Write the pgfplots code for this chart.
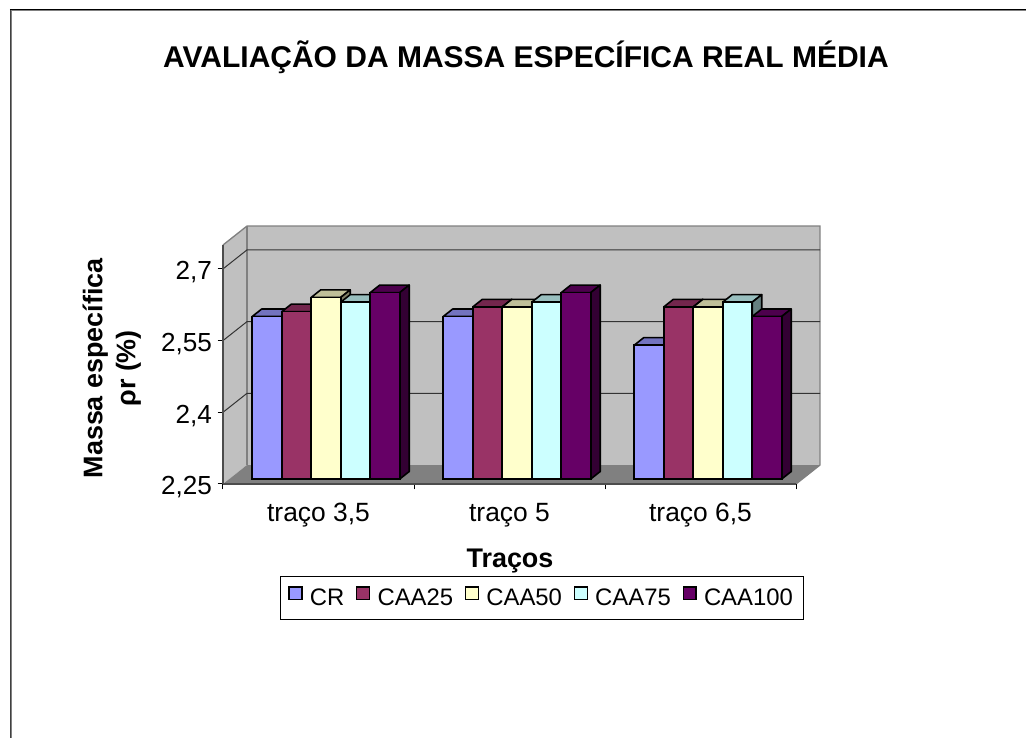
\documentclass[border=0pt]{standalone}
\usepackage{pgfplots}
\pgfplotsset{compat=1.18}
\usepackage{fontspec}
\setmainfont{Liberation Sans}
\newcommand{\sz}[1]{\fontsize{#1}{#1}\selectfont}
\newcommand{\faces}[5]{%
  \pgfmathsetmacro\xa{#1+(#2-0.5)*0.15445}%
  \pgfmathsetmacro\xb{\xa+0.15445}%
  \pgfmathsetmacro\xc{\xa+0.0497}%
  \pgfmathsetmacro\xd{\xb+0.0497}%
  \pgfmathsetmacro\yt{#3+0.0157}%
  \pgfmathsetmacro\yb{2.25+0.0157}%
  \addplot[forget plot,fill=#4,draw=black,line width=1.2pt,line join=round,xshift=5.625pt,yshift=3.75pt]
    coordinates {(\xa,#3) (\xb,#3) (\xd,\yt) (\xc,\yt)} -- cycle;
  \addplot[forget plot,fill=#5,draw=black,line width=1.2pt,line join=round,xshift=5.625pt,yshift=3.75pt]
    coordinates {(\xb,#3) (\xd,\yt) (\xd,\yb) (\xb,2.25)} -- cycle;
}
\newcommand{\series}[8]{% name, k, v0, v1, v2, front, top, side
  \faces{0}{#2}{#3}{#7}{#8}
  \faces{1}{#2}{#4}{#7}{#8}
  \faces{2}{#2}{#5}{#7}{#8}
  \addplot[ybar,bar width=22.125pt,bar shift=#2*22.125pt,fill=#6,draw=black,line width=1.2pt,
    xshift=5.625pt,yshift=3.75pt,
    legend image code/.code={\draw[fill=#6,draw=black,line width=1pt] (0pt,-4.8pt) rectangle (9.6pt,4.8pt);}]
    coordinates {(0,#3) (1,#4) (2,#5)};
  \addlegendentry{#1}
}
\definecolor{cA}{HTML}{9999FF}\definecolor{cAt}{HTML}{7373BF}\definecolor{cAs}{HTML}{4D4D80}
\definecolor{cB}{HTML}{993366}\definecolor{cBt}{HTML}{73264D}\definecolor{cBs}{HTML}{4D1A33}
\definecolor{cC}{HTML}{FFFFCC}\definecolor{cCt}{HTML}{BFBF99}\definecolor{cCs}{HTML}{808066}
\definecolor{cD}{HTML}{CCFFFF}\definecolor{cDt}{HTML}{99BFBF}\definecolor{cDs}{HTML}{668080}
\definecolor{cE}{HTML}{660066}\definecolor{cEt}{HTML}{4D004D}\definecolor{cEs}{HTML}{330033}
\definecolor{wall}{HTML}{C0C0C0}\definecolor{floorc}{HTML}{808080}
\begin{document}
\begin{tikzpicture}[x=0.75pt,y=0.75pt]
\path[use as bounding box] (0,0) rectangle (1026,738);
\draw[black!75,line width=1.2pt] (10.5,0) -- (10.5,728);
\draw[gray,line width=0.75pt] (11.5,0) -- (11.5,727.5) -- (1026,727.5);
\draw[black,line width=0.9pt] (9.8,728.5) -- (1026,728.5);
\begin{axis}[
  at={(167.25pt,190.5pt)},anchor=south west,
  scale only axis,width=429.75pt,height=179.25pt,
  xmin=-0.5,xmax=2.5,ymin=2.25,ymax=2.75,
  clip=false,axis on top,
  axis x line=bottom,axis y line=left,
  axis line style={-,draw=black!70,line width=1pt},
  tick style={black,line width=0.75pt},
  tick align=outside,major tick length=4pt,
  xtick={-0.5,0.5,1.5,2.5},xticklabels={},
  extra x ticks={0,1,2},
  extra x tick labels={traço 3{,}5,traço 5,traço 6{,}5},
  extra x tick style={major tick length=0pt},
  ytick={2.25,2.4,2.55,2.7},
  yticklabels={{2,25},{2,4},{2,55},{2,7}},
  yticklabel style={font=\sz{19.6},yshift=-2.5pt,xshift=-0.7pt},
  xticklabel style={font=\sz{19.8},yshift=-10.5pt,text height=14pt,text depth=4pt},
  title={AVALIAÇÃO DA MASSA ESPECÍFICA REAL MÉDIA},
  title style={at={(axis description cs:0.5288,1.753)},anchor=center,font=\bfseries\sz{22.5}},
  xlabel={Traços},
  xlabel style={at={(axis description cs:0.5009,-0.322)},anchor=center,font=\bfseries\sz{20.2}},
  ylabel={Massa específica\\[4.5pt]ρr (\%)},
  ylabel style={at={(axis description cs:-0.194,0.484)},anchor=center,align=center,font=\bfseries\sz{20.2}},
  legend columns=5,
  legend style={at={(axis description cs:0.5567,-0.478)},anchor=center,draw=black,line width=0.75pt,
    font=\sz{17.9},inner xsep=6pt,inner ysep=7.3pt,
    /tikz/every odd column/.append style={column sep=3.5pt},
    /tikz/every even column/.append style={column sep=6.8pt}},
]
% walls and floor
\fill[wall] (axis cs:-0.5,2.25) -- (axis cs:-0.3743,2.2897) -- (axis cs:-0.3743,2.7897) -- (axis cs:-0.5,2.75) -- cycle;
\fill[wall] (axis cs:-0.3743,2.2897) -- (axis cs:2.6257,2.2897) -- (axis cs:2.6257,2.7897) -- (axis cs:-0.3743,2.7897) -- cycle;
\fill[floorc] (axis cs:-0.5,2.25) -- (axis cs:2.5,2.25) -- (axis cs:2.6257,2.2897) -- (axis cs:-0.3743,2.2897) -- cycle;
\draw[floorc,line width=1pt] (axis cs:-0.5,2.75) -- (axis cs:-0.3743,2.7897) -- (axis cs:2.6257,2.7897) -- (axis cs:2.6257,2.2897) -- (axis cs:2.5,2.25);
\draw[floorc,line width=1pt] (axis cs:-0.3743,2.7897) -- (axis cs:-0.3743,2.2897);
\draw[black!80,line width=0.75pt] (axis cs:-0.5,2.4) -- (axis cs:-0.3743,2.4397) -- (axis cs:2.6257,2.4397);
\draw[black!80,line width=0.75pt] (axis cs:-0.5,2.55) -- (axis cs:-0.3743,2.5897) -- (axis cs:2.6257,2.5897);
\draw[black!80,line width=0.75pt] (axis cs:-0.5,2.7) -- (axis cs:-0.3743,2.7397) -- (axis cs:2.6257,2.7397);
\series{CR}{-2}{2.59}{2.59}{2.53}{cA}{cAt}{cAs}
\series{CAA25}{-1}{2.60}{2.61}{2.61}{cB}{cBt}{cBs}
\series{CAA50}{0}{2.63}{2.61}{2.61}{cC}{cCt}{cCs}
\series{CAA75}{1}{2.62}{2.62}{2.62}{cD}{cDt}{cDs}
\series{CAA100}{2}{2.64}{2.64}{2.59}{cE}{cEt}{cEs}
\end{axis}
\end{tikzpicture}
\end{document}
